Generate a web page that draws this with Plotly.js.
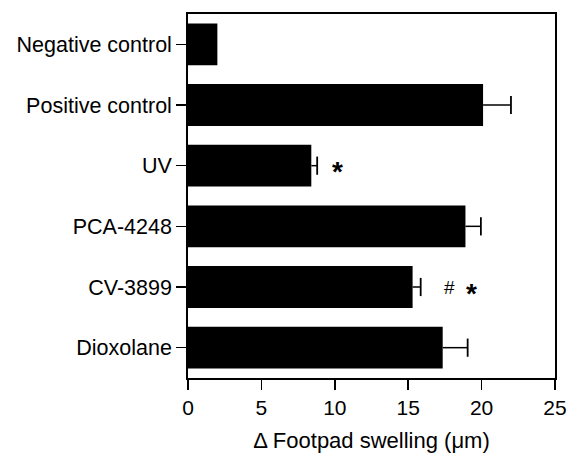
<!DOCTYPE html>
<html>
<head>
<meta charset="utf-8">
<script src="https://cdn.plot.ly/plotly-3.0.1.min.js"></script>
<style>html,body{margin:0;padding:0;background:#fff;}#chart{width:568px;height:456px;}</style>
</head>
<body>
<div id="chart"></div>
<script>
const categories = ["Negative control", "Positive control", "UV", "PCA-4248", "CV-3899", "Dioxolane"];
const values = [2.0, 20.1, 8.4, 18.9, 15.3, 17.35];
const errors = [0, 1.9, 0.4, 1.05, 0.55, 1.7];
const markCategories = ["UV", "CV-3899", "CV-3899"];
const markValues = [10.2, 17.8, 19.3];
const markTexts = ["*", "#", "*"];
const xTicks = [0, 5, 10, 15, 20, 25];

const font = {family: "Liberation Sans, Arial, sans-serif", color: "#000"};

const barTrace = {
  type: "bar",
  orientation: "h",
  y: categories,
  x: values,
  marker: {color: "#000", line: {width: 0}},
  hoverinfo: "none"
};

// one-sided error whiskers (line from bar end, cap only at the far end)
const errX = [], errY = [], capX = [], capY = [];
categories.forEach((c, i) => {
  if (errors[i] > 0) {
    errX.push(values[i], values[i] + errors[i], null);
    errY.push(c, c, null);
    capX.push(values[i] + errors[i]);
    capY.push(c);
  }
});
const whiskerTrace = {
  type: "scatter",
  mode: "lines",
  x: errX,
  y: errY,
  line: {color: "#000", width: 1.5},
  hoverinfo: "none",
  connectgaps: false
};
const capTrace = {
  type: "scatter",
  mode: "markers",
  x: capX,
  y: capY,
  marker: {symbol: "line-ns-open", size: 13, color: "#000", line: {color: "#000", width: 1.8}},
  hoverinfo: "none"
};

const annotations = markTexts.map((t, i) => ({
  x: markValues[i],
  y: markCategories[i],
  xref: "x",
  yref: "y",
  text: t === "*" ? "<b>*</b>" : t,
  showarrow: false,
  font: Object.assign({}, font, {size: t === "*" ? 28 : 19}),
  yshift: t === "*" ? -6 : 0
}));

const layout = {
  width: 568,
  height: 456,
  margin: {l: 188, r: 13, t: 14, b: 78},
  paper_bgcolor: "#fff",
  plot_bgcolor: "#fff",
  showlegend: false,
  bargap: 0.31,
  font: Object.assign({}, font, {size: 21}),
  xaxis: {
    range: [0, 25],
    tickvals: xTicks,
    ticktext: xTicks.map(String),
    ticks: "outside",
    ticklen: 10,
    tickwidth: 1.5,
    tickcolor: "#000",
    showline: true,
    linecolor: "#000",
    linewidth: 1.8,
    mirror: true,
    showgrid: false,
    zeroline: false,
    tickfont: Object.assign({}, font, {size: 21}),
    title: {text: "Δ Footpad swelling (μm)", font: Object.assign({}, font, {size: 22}), standoff: 14}
  },
  yaxis: {
    type: "category",
    autorange: "reversed",
    ticks: "outside",
    ticklen: 10,
    tickwidth: 1.5,
    tickcolor: "#000",
    showline: true,
    linecolor: "#000",
    linewidth: 1.8,
    mirror: true,
    showgrid: false,
    zeroline: false,
    tickfont: Object.assign({}, font, {size: 21.5})
  },
  annotations: annotations
};

Plotly.newPlot("chart", [barTrace, whiskerTrace, capTrace], layout, {displayModeBar: false, staticPlot: true});
</script>
</body>
</html>
